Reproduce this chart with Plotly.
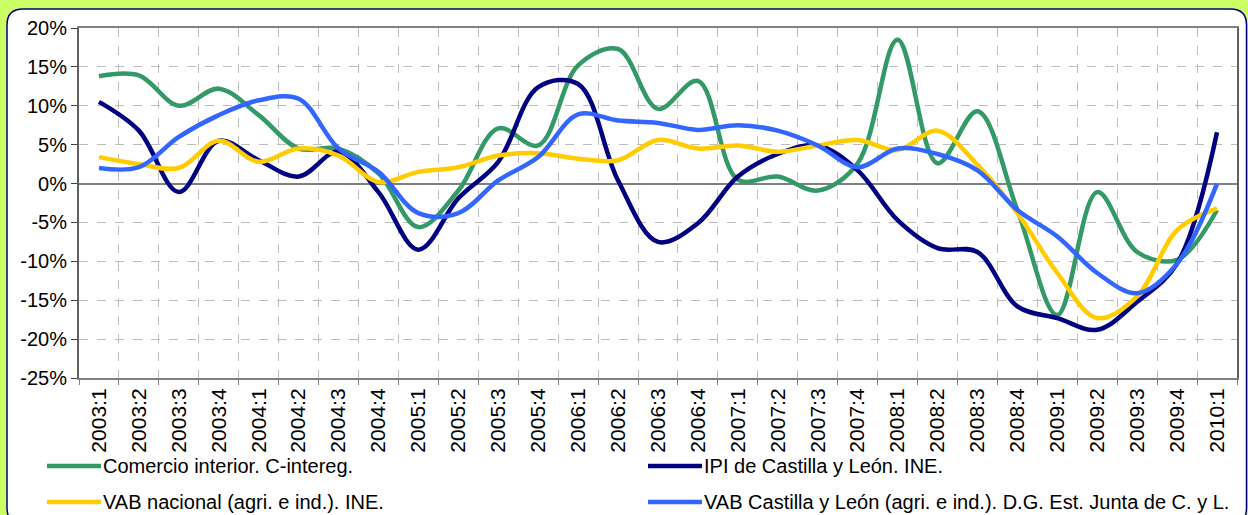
import plotly.graph_objects as go

quarters = ["2003:1","2003:2","2003:3","2003:4","2004:1","2004:2","2004:3","2004:4",
            "2005:1","2005:2","2005:3","2005:4","2006:1","2006:2","2006:3","2006:4",
            "2007:1","2007:2","2007:3","2007:4","2008:1","2008:2","2008:3","2008:4",
            "2009:1","2009:2","2009:3","2009:4","2010:1"]

comercio = [13.8, 13.9, 10.0, 12.2, 8.8, 4.5, 4.5, 1.3, -5.6, -0.9, 7.1, 4.9, 15.2, 17.3, 9.6,
            13.2, 0.5, 0.9, -0.9, 2.6, 18.5, 2.6, 9.3, -3.4, -16.9, -1.1, -8.8, -9.8, -3.4]
ipi = [10.5, 6.8, -1.1, 5.5, 3.0, 0.9, 4.1, -1.1, -8.5, -1.9, 2.8, 12.4, 12.8, 0.4, -7.5,
       -5.1, 0.9, 3.8, 4.9, 1.7, -4.7, -8.3, -8.8, -15.8, -17.3, -18.8, -15.2, -10.3, 6.6]
vab_nac = [3.4, 2.5, 2.0, 5.5, 2.8, 4.5, 3.6, 0.2, 1.5, 2.1, 3.6, 3.9, 3.2, 3.0, 5.6,
           4.5, 4.9, 4.1, 4.9, 5.6, 4.3, 6.8, 2.4, -3.8, -11.5, -17.3, -14.5, -6.0, -3.2]
vab_cyl = [2.0, 2.1, 6.0, 8.8, 10.7, 10.9, 4.5, 1.5, -3.8, -3.8, 0.4, 3.4, 8.9, 8.1, 7.8,
           6.9, 7.5, 6.8, 4.9, 2.1, 4.5, 3.8, 1.7, -3.4, -6.8, -11.5, -14.1, -10.3, 0.0]

series_names = ["Comercio interior. C-intereg.",
                "IPI de Castilla y León. INE.",
                "VAB nacional (agri. e ind.). INE.",
                "VAB Castilla y León (agri. e ind.). D.G. Est. Junta de C. y L."]
series_values = [comercio, ipi, vab_nac, vab_cyl]
series_colors = ["#339966", "#000080", "#FFCC00", "#3366FF"]

y_tick_vals = [-25, -20, -15, -10, -5, 0, 5, 10, 15, 20]
y_tick_text = ["-25%", "-20%", "-15%", "-10%", "-5%", "0%", "5%", "10%", "15%", "20%"]

# layout geometry (pixels)
WIDTH, HEIGHT = 1248, 515
L, R, T, B = 79, 1237, 28, 378
PW, PH = R - L, B - T


def px(x):
    return (x - L) / PW


def py(y):
    return (B - y) / PH


FONT = "Liberation Sans, Arial, sans-serif"

fig = go.Figure()
for name, vals, col in zip(series_names, series_values, series_colors):
    fig.add_trace(go.Scatter(x=quarters, y=vals, name=name, mode="lines",
                             line=dict(color=col, width=4.5, shape="spline", smoothing=1.0),
                             showlegend=False))

# rounded white panel
x0, y0, x1, y1, r = 7, 9, 1246.5, 524, 16
path = (f"M {px(x0 + r)},{py(y0)} L {px(x1 - r)},{py(y0)} "
        f"Q {px(x1)},{py(y0)} {px(x1)},{py(y0 + r)} L {px(x1)},{py(y1 - r)} "
        f"Q {px(x1)},{py(y1)} {px(x1 - r)},{py(y1)} L {px(x0 + r)},{py(y1)} "
        f"Q {px(x0)},{py(y1)} {px(x0)},{py(y1 - r)} L {px(x0)},{py(y0 + r)} "
        f"Q {px(x0)},{py(y0)} {px(x0 + r)},{py(y0)} Z")
shapes = [dict(type="path", xref="paper", yref="paper", path=path, layer="below",
               fillcolor="white", line=dict(color="#000080", width=1.5))]

# manual legend (2 columns x 2 rows)
annotations = []
legend_pos = [(47, 466), (648, 466), (47, 502), (648, 502)]
for (lx, ly), name, col in zip(legend_pos, series_names, series_colors):
    shapes.append(dict(type="line", xref="paper", yref="paper",
                       x0=px(lx), x1=px(lx + 54), y0=py(ly), y1=py(ly),
                       line=dict(color=col, width=4.5)))
    annotations.append(dict(xref="paper", yref="paper", x=px(lx + 54), y=py(ly),
                            xanchor="left", yanchor="middle", showarrow=False,
                            text=name, font=dict(family=FONT, size=20, color="black")))

fig.update_layout(
    width=WIDTH, height=HEIGHT,
    margin=dict(l=L, r=WIDTH - R, t=T, b=HEIGHT - B, autoexpand=False),
    paper_bgcolor="#CCFF66", plot_bgcolor="white",
    font=dict(family=FONT, size=20, color="black"),
    shapes=shapes, annotations=annotations, showlegend=False,
    xaxis=dict(type="category", categoryorder="array", categoryarray=quarters,
               range=[-0.5, len(quarters) - 0.5],
               tickson="boundaries", ticks="outside", ticklen=5, tickcolor="#808080",
               tickangle=-90, tickfont=dict(family=FONT, size=21, color="black"),
               showgrid=True, gridcolor="#BDBDBD", griddash="dash", gridwidth=1,
               showline=True, linecolor="#808080", linewidth=2, mirror=True,
               zeroline=False),
    yaxis=dict(range=[-25, 20], tickvals=y_tick_vals, ticktext=y_tick_text,
               ticks="outside", ticklen=6, tickcolor="#404040",
               tickfont=dict(family=FONT, size=20, color="black"),
               showgrid=True, gridcolor="#BDBDBD", griddash="dash", gridwidth=1,
               showline=True, linecolor="#606060", linewidth=2, mirror=True,
               zeroline=True, zerolinecolor="#808080", zerolinewidth=1.5),
)

fig.write_html("out.html", config={"displayModeBar": False},
               post_script="document.body.style.margin='0';document.body.style.padding='0';"
                           "document.body.style.overflow='hidden';")
